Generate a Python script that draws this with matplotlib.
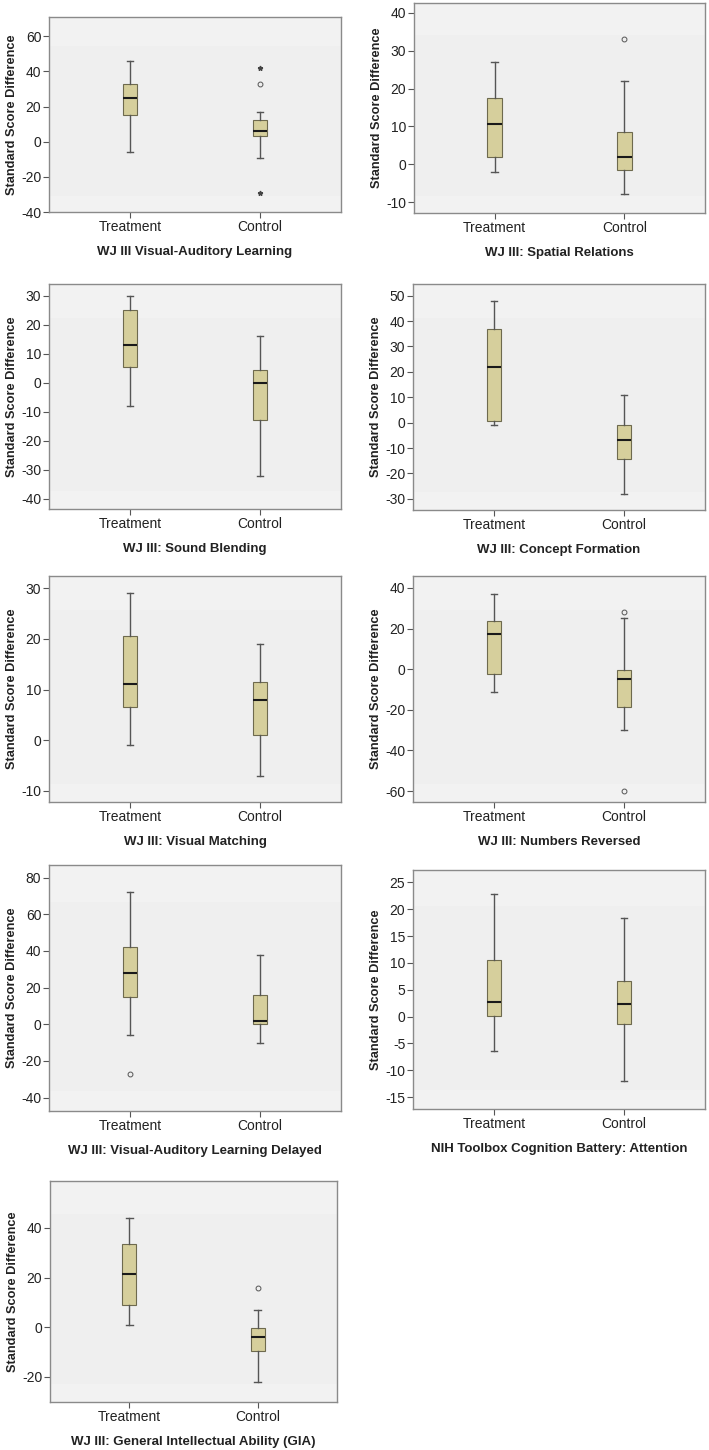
import numpy as np
import matplotlib
matplotlib.use("Agg")
import matplotlib.pyplot as plt
from matplotlib.patches import Rectangle

plt.rcParams['font.family'] = ['Liberation Sans', 'DejaVu Sans']
plt.rcParams['axes.unicode_minus'] = False

groups = ["Treatment", "Control"]

titles = [
    "WJ III Visual-Auditory Learning",
    "WJ III: Spatial Relations",
    "WJ III: Sound Blending",
    "WJ III: Concept Formation",
    "WJ III: Visual Matching",
    "WJ III: Numbers Reversed",
    "WJ III: Visual-Auditory Learning Delayed",
    "NIH Toolbox Cognition Battery: Attention",
    "WJ III: General Intellectual Ability (GIA)",
]

# per panel, per group: [whisker low, q1, median, q3, whisker high]
treat_stats = [
    [-6, 15, 25, 32.6, 46],
    [-2, 2, 10.5, 17.5, 27],
    [-8, 5.5, 13, 25, 30],
    [-1, 0.5, 22, 37, 48],
    [-1, 6.5, 11, 20.5, 29],
    [-11, -2.5, 17.5, 23.5, 37],
    [-6, 15, 28, 42, 72],
    [-6.4, 0.1, 2.8, 10.6, 22.9],
    [1, 9, 21.5, 33.5, 44],
]
control_stats = [
    [-9, 3, 6, 12.5, 17],
    [-8, -1.5, 2, 8.5, 22],
    [-32, -13, 0, 4.5, 16],
    [-28, -14.5, -7, -1, 11],
    [-7, 1, 8, 11.5, 19],
    [-30, -18.5, -5, -0.5, 25],
    [-10, 0, 2, 16, 38],
    [-12, -1.4, 2.4, 6.6, 18.4],
    [-22, -9.5, -4, -0.5, 7],
]

# outliers (circles) and extremes (stars)
treat_out = [[], [], [], [], [], [], [-27], [], []]
control_out = [[33], [33], [], [], [], [28, -60], [], [], [16]]
control_ext = [[42, -29], [], [], [], [], [], [], [], []]

y_limits = [(-40, 71), (-12.9, 42.6), (-43.5, 34), (-34.4, 54.6), (-12.2, 32.4),
            (-65.4, 45.9), (-47.3, 86.9), (-17.2, 27.3), (-30.1, 58.9)]
y_ticks = [
    [-40, -20, 0, 20, 40, 60],
    [-10, 0, 10, 20, 30, 40],
    [-40, -30, -20, -10, 0, 10, 20, 30],
    [-30, -20, -10, 0, 10, 20, 30, 40, 50],
    [-10, 0, 10, 20, 30],
    [-60, -40, -20, 0, 20, 40],
    [-40, -20, 0, 20, 40, 60, 80],
    [-15, -10, -5, 0, 5, 10, 15, 20, 25],
    [-20, 0, 20, 40],
]

# axes boxes in pixels: left, top, right, bottom
W, H = 709, 1450
boxes = [
    (49, 17, 341, 212), (414, 3, 705, 213),
    (49, 284, 341, 509), (413, 284, 705, 510),
    (49, 576, 341, 802), (413, 576, 705, 802),
    (49, 865, 341, 1111), (413, 870, 705, 1109),
    (50, 1181, 337, 1402),
]

fig = plt.figure(figsize=(W / 100, H / 100), dpi=100)

box_fill = "#d6cf9c"
box_edge = "#6e6a4e"
line_col = "#555555"

for i in range(9):
    l, t, r, b = boxes[i]
    ax = fig.add_axes([l / W, 1 - b / H, (r - l) / W, (b - t) / H])
    ax.set_facecolor("#efefef")
    # lighter bands at top and bottom of the plot area
    ax.add_patch(Rectangle((0, 0), 1, 0.08, transform=ax.transAxes,
                           color="#f2f2f2", lw=0, zorder=0))
    ax.add_patch(Rectangle((0, 0.85), 1, 0.15, transform=ax.transAxes,
                           color="#f2f2f2", lw=0, zorder=0))

    stats = []
    for s, fl in ((treat_stats[i], treat_out[i]), (control_stats[i], control_out[i])):
        stats.append(dict(whislo=s[0], q1=s[1], med=s[2], q3=s[3], whishi=s[4], fliers=fl))
    ax.bxp(stats, positions=[1, 2], widths=0.11, patch_artist=True,
           boxprops=dict(facecolor=box_fill, edgecolor=box_edge, linewidth=0.8),
           medianprops=dict(color="#1a1a1a", linewidth=1.5),
           whiskerprops=dict(color=line_col, linewidth=1.0),
           capprops=dict(color=line_col, linewidth=1.0),
           capwidths=0.05,
           flierprops=dict(marker="o", markersize=3.5, markerfacecolor="none",
                           markeredgecolor="#555555", markeredgewidth=0.7))
    if control_ext[i]:
        ax.plot([2] * len(control_ext[i]), control_ext[i], ls="none", marker="*",
                markersize=3.5, color="#444444")

    ax.set_xlim(0.38, 2.62)
    ax.set_ylim(*y_limits[i])
    ax.set_yticks(y_ticks[i])
    ax.set_xticks([1, 2])
    ax.set_xticklabels(groups)
    ax.tick_params(axis="both", labelsize=10, length=4, width=0.8, color="#555555",
                   labelcolor="#222222", pad=1.5)
    for sp in ax.spines.values():
        sp.set_color("#8a8a8a")
        sp.set_linewidth(1.0)
    ax.set_ylabel("Standard Score Difference", fontsize=9.2, fontweight="bold",
                  color="#222222", labelpad=2.5)
    ax.set_xlabel(titles[i], fontsize=9.5, fontweight="bold", color="#222222",
                  labelpad=9)

fig.savefig("out.png", dpi=100, facecolor="white")
